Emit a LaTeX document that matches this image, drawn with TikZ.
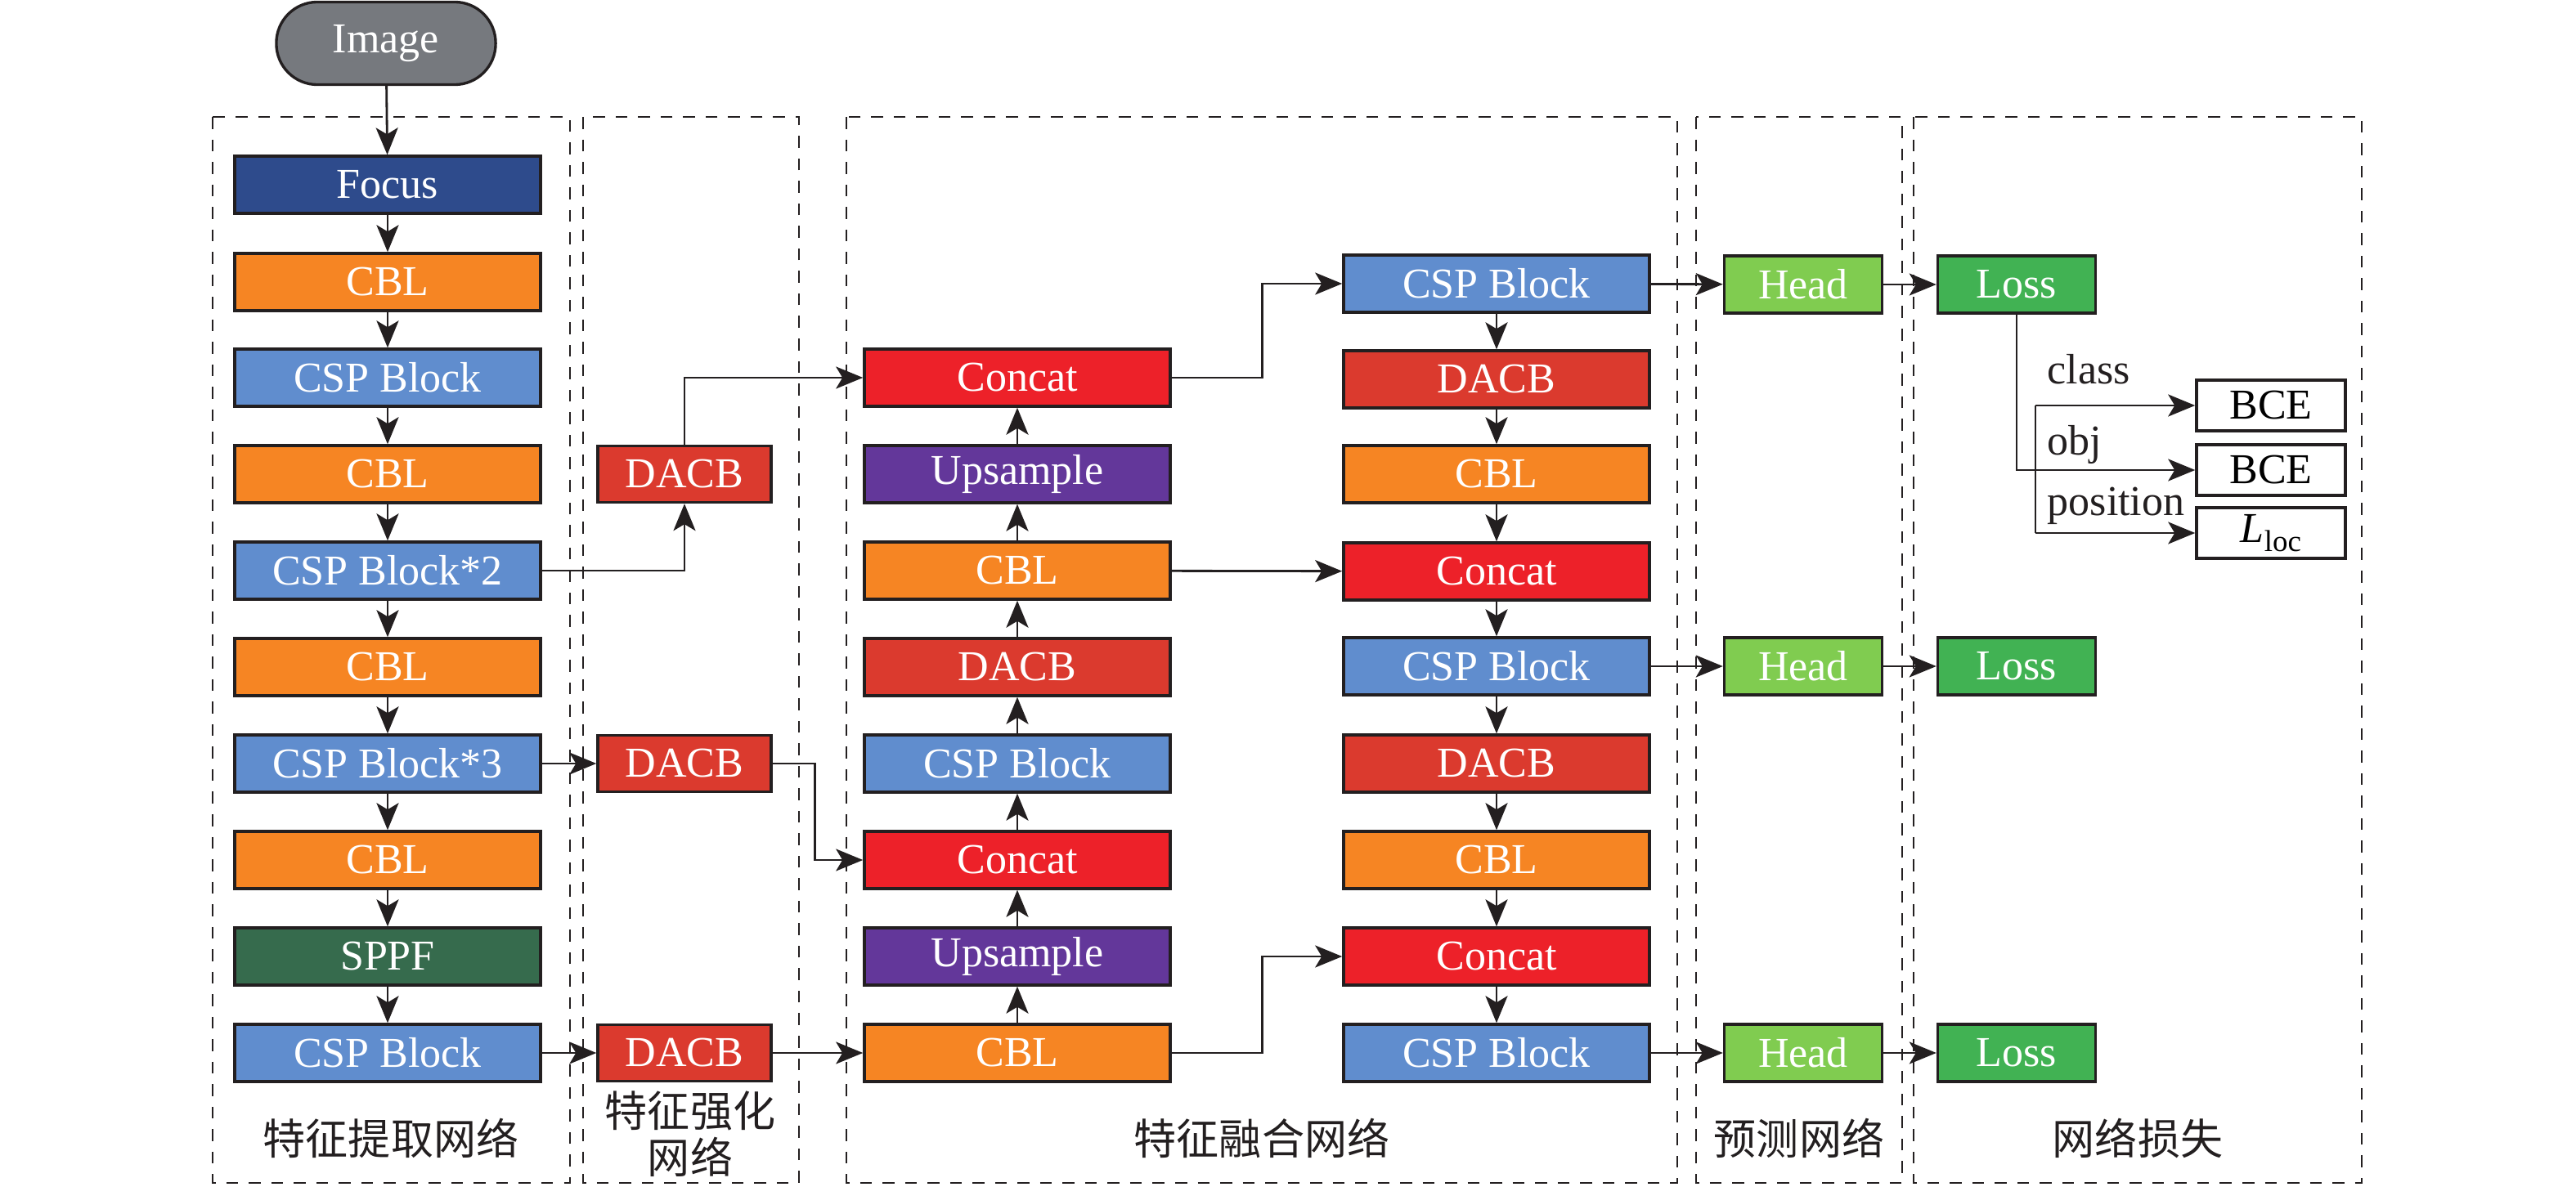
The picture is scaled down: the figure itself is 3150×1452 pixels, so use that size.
\documentclass[tikz,border=0pt]{standalone}
\usepackage{fontspec}
\setmainfont{Liberation Serif}
\newfontfamily\cjk{Noto Sans CJK SC}
\usetikzlibrary{arrows.meta}
\definecolor{cGray}{RGB}{118,121,126}
\definecolor{cFocus}{RGB}{46,75,140}
\definecolor{cCBL}{RGB}{246,133,35}
\definecolor{cCSP}{RGB}{96,141,206}
\definecolor{cDACB}{RGB}{219,58,46}
\definecolor{cConcat}{RGB}{237,33,41}
\definecolor{cUp}{RGB}{99,55,154}
\definecolor{cSPPF}{RGB}{54,107,77}
\definecolor{cHead}{RGB}{128,204,80}
\definecolor{cLoss}{RGB}{65,178,83}
\definecolor{cLine}{RGB}{35,31,32}
\begin{document}
\begin{tikzpicture}[x=0.01cm,y=-0.01cm,
  txt/.style={font=\fontsize{14.8}{17}\selectfont},
  blk/.style={txt, draw=cLine, line width=0.95pt, minimum width=3.74cm, minimum height=0.70cm, text=white, inner sep=0pt},
  smallblk/.style={blk, minimum width=2.12cm, minimum height=0.69cm},
  hl/.style={blk, minimum width=1.93cm, minimum height=0.70cm},
  wbox/.style={txt, draw=cLine, line width=0.95pt, minimum width=1.82cm, minimum height=0.62cm, text=black, fill=white, inner sep=0pt},
  arr/.style={draw=cLine, -{Stealth[length=3.3mm,width=2.7mm,inset=0.8mm]}, line width=0.8pt},
  ln/.style={draw=cLine, line width=0.8pt},
  grp/.style={draw=cLine, dash pattern=on 1.45mm off 1.3mm, line width=0.8pt},
  lab/.style={font=\cjk\fontsize{14.8}{16.4}\selectfont, text=cLine, align=center}]
\useasboundingbox (0,0) rectangle (3150,1452);

% group frames
\draw[grp] (260,143) rectangle (697,1447);
\draw[grp] (713,143) rectangle (977,1447);
\draw[grp] (1035,143) rectangle (2051,1447);
\draw[grp] (2074,143) rectangle (2326,1447);
\draw[grp] (2340,143) rectangle (2888,1447);

% input
\node[blk, fill=cGray, rounded corners=0.5cm, minimum width=2.68cm, minimum height=1.01cm] (img) at (472,53) {Image};

% column 1
\node[blk, fill=cFocus] (a0) at (474,226) {Focus};
\node[blk, fill=cCBL]   (a1) at (474,345) {CBL};
\node[blk, fill=cCSP]   (a2) at (474,462) {CSP Block};
\node[blk, fill=cCBL]   (a3) at (474,580) {CBL};
\node[blk, fill=cCSP]   (a4) at (474,698) {CSP Block*2};
\node[blk, fill=cCBL]   (a5) at (474,816) {CBL};
\node[blk, fill=cCSP]   (a6) at (474,934) {CSP Block*3};
\node[blk, fill=cCBL]   (a7) at (474,1052) {CBL};
\node[blk, fill=cSPPF]  (a8) at (474,1170) {SPPF};
\node[blk, fill=cCSP]   (a9) at (474,1288) {CSP Block};

% column 2
\node[smallblk, fill=cDACB] (d1) at (837,580) {DACB};
\node[smallblk, fill=cDACB] (d2) at (837,934) {DACB};
\node[smallblk, fill=cDACB] (d3) at (837,1288) {DACB};

% column 3
\node[blk, fill=cConcat] (b2) at (1244,462) {Concat};
\node[blk, fill=cUp]     (b3) at (1244,580) {Upsample};
\node[blk, fill=cCBL]    (b4) at (1244,698) {CBL};
\node[blk, fill=cDACB]   (b5) at (1244,816) {DACB};
\node[blk, fill=cCSP]    (b6) at (1244,934) {CSP Block};
\node[blk, fill=cConcat] (b7) at (1244,1052) {Concat};
\node[blk, fill=cUp]     (b8) at (1244,1170) {Upsample};
\node[blk, fill=cCBL]    (b9) at (1244,1288) {CBL};

% column 4
\node[blk, fill=cCSP]    (c1) at (1830,347) {CSP Block};
\node[blk, fill=cDACB]   (c2) at (1830,464) {DACB};
\node[blk, fill=cCBL]    (c3) at (1830,580) {CBL};
\node[blk, fill=cConcat] (c4) at (1830,699) {Concat};
\node[blk, fill=cCSP]    (c5) at (1830,815) {CSP Block};
\node[blk, fill=cDACB]   (c6) at (1830,934) {DACB};
\node[blk, fill=cCBL]    (c7) at (1830,1052) {CBL};
\node[blk, fill=cConcat] (c8) at (1830,1170) {Concat};
\node[blk, fill=cCSP]    (c9) at (1830,1288) {CSP Block};

% heads and losses
\node[hl, fill=cHead] (h1) at (2205,348) {Head};
\node[hl, fill=cHead] (h2) at (2205,815) {Head};
\node[hl, fill=cHead] (h3) at (2205,1288) {Head};
\node[hl, fill=cLoss] (l1) at (2466,348) {Loss};
\node[hl, fill=cLoss] (l2) at (2466,815) {Loss};
\node[hl, fill=cLoss] (l3) at (2466,1288) {Loss};

% loss terms
\node[wbox] (e1) at (2777,496) {BCE};
\node[wbox] (e2) at (2777,575) {BCE};
\node[wbox] (e3) at (2777,652) {\textit{L}\raisebox{-0.45ex}{\fontsize{10.5}{12}\selectfont loc}};
\node[txt, anchor=base west, text=cLine, inner sep=0pt] (tc) at (2503,470) {class};
\node[txt, anchor=base west, text=cLine, inner sep=0pt] (to) at (2503,557) {obj};
\node[txt, anchor=base west, text=cLine, inner sep=0pt] (tp) at (2503,630) {position};

% group labels
\node[lab] (g1) at (478,1392) {特征提取网络};
\node[lab] (g2) at (844,1387) {特征强化\\网络};
\node[lab] (g3) at (1543,1392) {特征融合网络};
\node[lab] (g4) at (2200,1392) {预测网络};
\node[lab] (g5) at (2614,1392) {网络损失};

% column 1 chain
\draw[arr] (img) -- (a0);
\foreach \p/\q in {a0/a1,a1/a2,a2/a3,a3/a4,a4/a5,a5/a6,a6/a7,a7/a8,a8/a9}
  \draw[arr] (\p) -- (\q);

% to column 2
\draw[arr] (a4.east) -| (d1.south);
\draw[arr] (a6) -- (d2);
\draw[arr] (a9) -- (d3);

% column 2 to column 3
\draw[arr] (d1.north) |- (b2.west);
\draw[arr] (d2.east) -- ++(52,0) |- (b7.west);
\draw[arr] (d3) -- (b9);

% column 3 upward chain
\foreach \p/\q in {b9/b8,b8/b7,b7/b6,b6/b5,b5/b4,b4/b3,b3/b2}
  \draw[arr] (\p) -- (\q);

% column 3 to column 4
\draw[arr] (b2.east) -- ++(111,0) |- (c1.west);
\draw[arr] (b4) -- (c4);
\draw[arr] (b9.east) -- ++(111,0) |- (c8.west);

% column 4 downward chain
\foreach \p/\q in {c1/c2,c2/c3,c3/c4,c4/c5,c5/c6,c6/c7,c7/c8,c8/c9}
  \draw[arr] (\p) -- (\q);

% heads
\draw[arr] (c1) -- (h1);
\draw[arr] (c5) -- (h2);
\draw[arr] (c9) -- (h3);
\draw[arr] (h1) -- (l1);
\draw[arr] (h2) -- (l2);
\draw[arr] (h3) -- (l3);

% loss branches
\draw[arr] (l1.south) |- (e2.west);
\coordinate (bA) at (2489,496);
\coordinate (bB) at (2489,652);
\draw[ln] (bA) -- (bB);
\draw[arr] (bA) -- (e1.west);
\draw[arr] (bB) -- (e3.west);
\end{tikzpicture}
\end{document}
